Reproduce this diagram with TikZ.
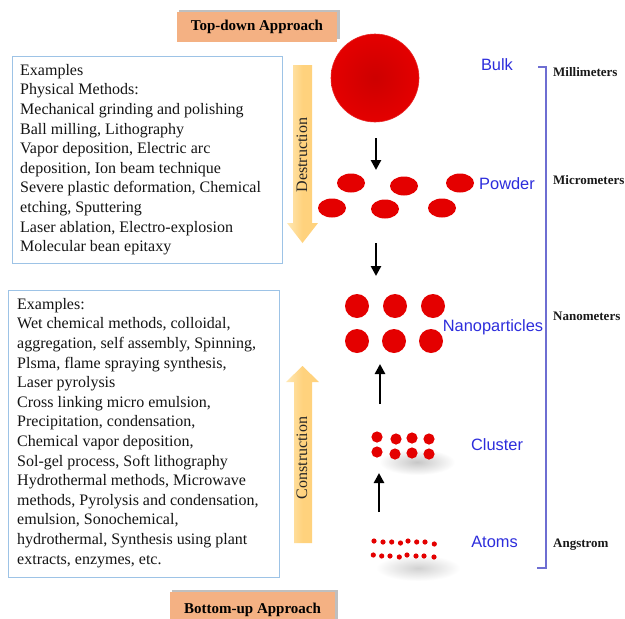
\documentclass[tikz,border=0pt]{standalone}
\usepackage{fontspec}
\setmainfont{Liberation Serif}
\newfontfamily\arialf{Liberation Sans}
\usetikzlibrary{arrows.meta}
\definecolor{boxborder}{RGB}{157,195,230}
\definecolor{titlefill}{RGB}{244,177,131}
\definecolor{bigarrow}{RGB}{255,210,125}
\definecolor{bigarrowlight}{RGB}{255,232,180}
\definecolor{partred}{RGB}{228,0,0}
\definecolor{partdark}{RGB}{205,0,0}
\definecolor{lblue}{RGB}{45,45,220}
\definecolor{brk}{RGB}{110,110,210}
\begin{document}
\begin{tikzpicture}[x=1pt,y=-1pt,
  titlebox/.style={fill=titlefill, inner sep=0pt, minimum width=160pt, minimum height=30pt,
     font=\fontsize{15}{18}\selectfont\bfseries},
  exbox/.style={draw=boxborder, line width=1pt, fill=white},
  extext/.style={anchor=north west, inner sep=0pt, align=left,
     font=\fontsize{16}{19.6}\selectfont, text=black!92},
  bigtext/.style={rotate=90, inner sep=0pt, font=\fontsize{16}{18}\selectfont, text=black!85},
  lbl/.style={inner sep=0pt, text=lblue, font=\arialf\fontsize{16.4}{18}\selectfont},
  scl/.style={anchor=west, inner sep=0pt, font=\fontsize{13}{15}\selectfont\bfseries, text=black!90},
  blk/.style={draw=black, line width=2.8pt, -{Triangle[width=10pt,length=10pt]}},
]
\clip (0,0) rectangle (625,619);
\fill[white] (0,0) rectangle (625,619);

% title boxes
\fill[black!25] (179,9.5) rectangle (339.5,39);
\node[titlebox] (td) at (257,27) {Top-down Approach};
\fill[black!25] (172,589.5) rectangle (337.5,625);
\node[titlebox, minimum width=165pt, minimum height=36pt] (bu) at (252.5,610) {Bottom-up Approach};

% example boxes
\draw[exbox] (12,56) rectangle (282,263);
\node[extext] (ex1) at (20,64) {Examples\\
Physical Methods:\\
Mechanical grinding and polishing\\
Ball milling, Lithography\\
Vapor deposition, Electric arc\\
deposition, Ion beam technique\\
Severe plastic deformation, Chemical\\
etching, Sputtering\\
Laser ablation, Electro-explosion\\
Molecular bean epitaxy};

\draw[exbox] (8,290) rectangle (279,577);
\node[extext] (ex2) at (17,298) {Examples:\\
Wet chemical methods, colloidal,\\
aggregation, self assembly, Spinning,\\
Plsma, flame spraying synthesis,\\
Laser pyrolysis\\
Cross linking micro emulsion,\\
Precipitation, condensation,\\
Chemical vapor deposition,\\
Sol-gel process, Soft lithography\\
Hydrothermal methods, Microwave\\
methods, Pyrolysis and condensation,\\
emulsion, Sonochemical,\\
hydrothermal, Synthesis using plant\\
extracts, enzymes, etc.};

% big arrows
\shade[left color=bigarrowlight, right color=bigarrow, middle color=bigarrow]
  (293,65) -- (312,65) -- (312,223) -- (318,223) -- (302.5,243) -- (287,223) -- (293,223) -- cycle;
\node[bigtext] (destr) at (302,155) {Destruction};
\shade[left color=bigarrowlight, right color=bigarrow, middle color=bigarrow]
  (294,543) -- (312,543) -- (312,382) -- (319,382) -- (302.5,366) -- (286,382) -- (294,382) -- cycle;
\node[bigtext] (constr) at (302,458) {Construction};

% bulk
\shade[inner color=partdark, outer color=partred] (375,78) circle (44);
\node[circle, minimum size=88pt, inner sep=0pt, draw=partred!85!white, line width=0.6pt] (bulk) at (375,78) {};

% powder
\foreach \px/\py in {351/183, 404/186, 460/183, 332/208, 385/209, 442/208}
  \fill[partred] (\px,\py) ellipse (14 and 9.5);

% nanoparticles
\foreach \px/\py in {357/306, 395/306, 433/306, 357/341, 394/341, 431/341}
  \fill[partred] (\px,\py) circle (12);

% cluster shadow and dots
\shade[inner color=black!22, outer color=white] (417,462) ellipse (38 and 13);
\foreach \px/\py in {377/437, 396/439, 412/438, 429/439, 377/452, 395/454, 412/453, 429/454}
  \fill[partred] (\px,\py) circle (5.6);

% atoms shadow and dots
\shade[inner color=black!18, outer color=white] (418,568) ellipse (42 and 13);
\foreach \px/\py in {374/541, 383/542, 391.7/542, 400.5/543, 408/541, 416.7/542, 425/542, 434.3/544,
                     373.3/555, 381.7/556, 390/556, 399.3/557, 407/555, 416/556, 424/556, 434/557}
  \fill[partred] (\px,\py) circle (2.6);

% black arrows
\coordinate (a1s) at (376,138); \coordinate (a1e) at (376,170);
\coordinate (a2s) at (376,243); \coordinate (a2e) at (376,276);
\coordinate (a3s) at (380,404); \coordinate (a3e) at (380,364);
\coordinate (a4s) at (379,512); \coordinate (a4e) at (379,473);
\draw[blk] (a1s) -- (a1e);
\draw[blk] (a2s) -- (a2e);
\draw[blk] (a3s) -- (a3e);
\draw[blk] (a4s) -- (a4e);

% labels
\node[lbl] (lbulk) at (497,65) {Bulk};
\node[lbl] (lpow) at (507,184) {Powder};
\node[lbl] (lnano) at (493,327) {Nanoparticles};
\node[lbl] (lclu) at (497,445) {Cluster};
\node[lbl] (latom) at (494.5,542) {Atoms};

% bracket
\coordinate (b1) at (538,67); \coordinate (b2) at (546,67);
\coordinate (b3) at (546,568); \coordinate (b4) at (537,568);
\draw[brk, line width=1.2pt] (b1) -- (b2) -- (b3) -- (b4);

% scale labels
\node[scl] (smm) at (553,72) {Millimeters};
\node[scl] (smu) at (553,180) {Micrometers};
\node[scl] (snm) at (553,316) {Nanometers};
\node[scl] (sang) at (553,545) {Angstrom};
\end{tikzpicture}
\end{document}
